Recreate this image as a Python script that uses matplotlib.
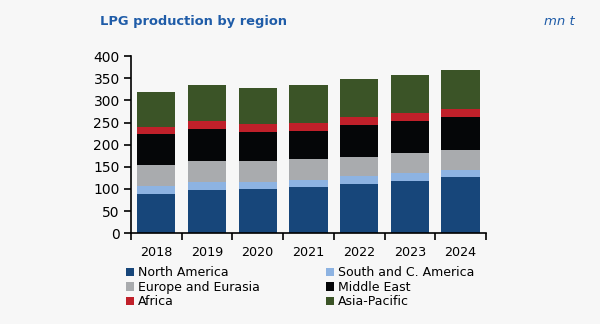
import numpy as np
import matplotlib.pyplot as plt

years = ["2018", "2019", "2020", "2021", "2022", "2023", "2024"]
north_america = [88, 98, 101, 105, 112, 119, 127]
south_c_america = [19.5, 18, 15.5, 16, 17, 18, 16.6]
europe_eurasia = [47.5, 48, 46, 46, 44, 45, 45]
middle_east = [68, 70.6, 66.6, 64.6, 70.6, 70.6, 73]
africa = [18, 18, 18, 18, 18, 18, 18]
asia_pacific = [78.5, 81.4, 81.5, 85.4, 85.7, 87.3, 89.3]

series = [
    ("North America", north_america, "#17467a"),
    ("South and C. America", south_c_america, "#8db3e2"),
    ("Europe and Eurasia", europe_eurasia, "#a9abae"),
    ("Middle East", middle_east, "#050608"),
    ("Africa", africa, "#c0202a"),
    ("Asia-Pacific", asia_pacific, "#3b5427"),
]

bg = "#f7f7f7"
plt.rcParams['font.family'] = ['DejaVu Sans']
fig = plt.figure(figsize=(6, 3.24), dpi=100, facecolor=bg)
ax = fig.add_axes([0.218, 0.28, 0.592, 0.547], facecolor=bg)

x = np.arange(len(years))
bottom = np.zeros(len(years))
handles = {}
for name, vals, col in series:
    b = ax.bar(x, vals, width=0.755, bottom=bottom, color=col, label=name)
    handles[name] = b
    bottom += np.array(vals)

ax.set_xlim(-0.5, len(years) - 0.5)
ax.set_ylim(0, 400)
ax.set_yticks(range(0, 401, 50))
ax.set_xticks(x)
ax.set_xticklabels(years)
ax.set_xticks(np.arange(-0.5, len(years), 1), minor=True)
ax.tick_params(axis='x', which='major', length=0, pad=9, labelsize=9.2)
ax.tick_params(axis='x', which='minor', length=5, width=1.2, direction='out')
ax.tick_params(axis='y', length=5, width=1.2, direction='out', labelsize=10, pad=3)
for s in ["top", "right"]:
    ax.spines[s].set_visible(False)
for s in ["left", "bottom"]:
    ax.spines[s].set_linewidth(1.2)

fig.text(0.167, 0.935, "LPG production by region", color="#1f5ca8",
         fontsize=9.4, fontweight="bold", va="center")
fig.text(0.958, 0.935, "mn t", color="#1f5ca8", fontsize=9.5,
         fontstyle="italic", va="center", ha="right")

order = ["North America", "Europe and Eurasia", "Africa",
         "South and C. America", "Middle East", "Asia-Pacific"]
fig.legend([handles[n] for n in order], order, ncol=2, loc="upper left",
           bbox_to_anchor=(0.2, 0.197), frameon=False, fontsize=9,
           handlelength=0.65, handleheight=0.65, handletextpad=0.3,
           labelspacing=0.12, columnspacing=5.3, borderpad=0)

fig.savefig("out.png", dpi=100, facecolor=bg)
